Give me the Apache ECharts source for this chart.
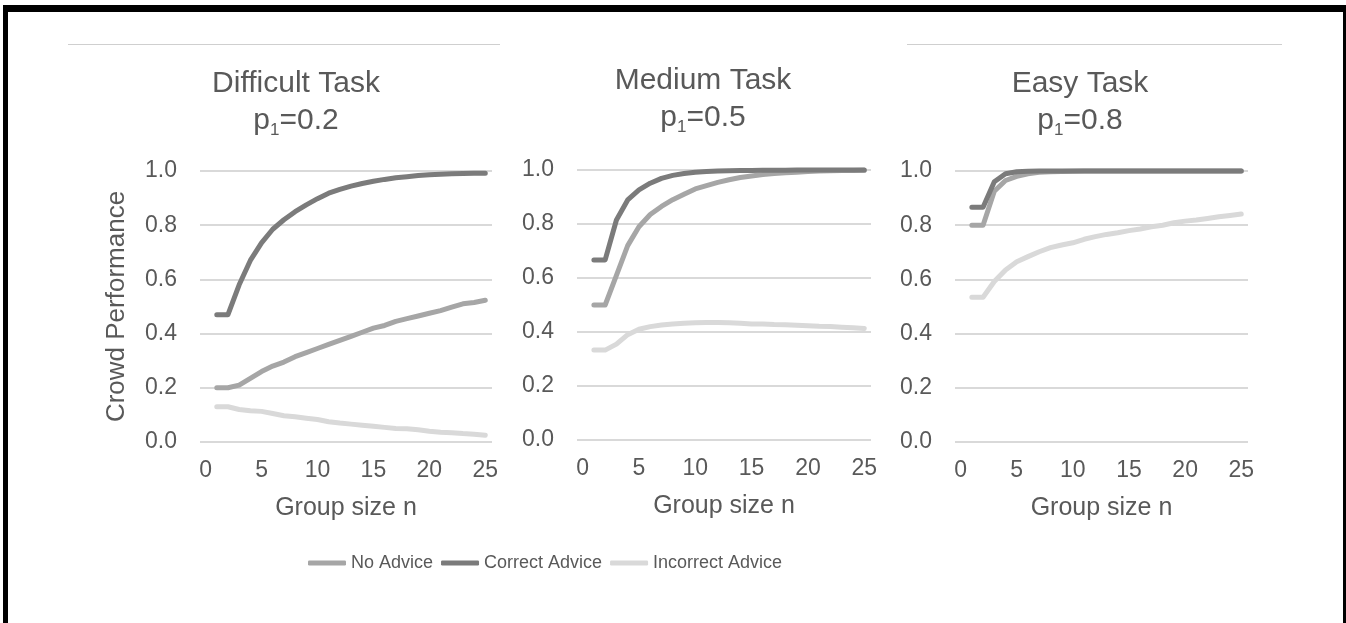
<!DOCTYPE html>
<html>
<head>
<meta charset="utf-8">
<script src="https://cdn.jsdelivr.net/npm/echarts@6/dist/echarts.min.js"></script>
<style>
  html, body { margin: 0; padding: 0; background: #ffffff; }
  #chart { width: 1346px; height: 623px; }
</style>
</head>
<body>
<div id="chart"></div>
<script>
// Group sizes n shown on the x axis
const groupSize = [1, 2, 3, 4, 5, 6, 7, 8, 9, 10, 11, 12, 13, 14, 15, 16, 17, 18, 19, 20, 21, 22, 23, 24, 25];
const xTickValues = [0, 5, 10, 15, 20, 25];

const seriesNames = ['No Advice', 'Correct Advice', 'Incorrect Advice'];
const panelTitles = ['Difficult Task', 'Medium Task', 'Easy Task'];
const panelP1 = ['0.2', '0.5', '0.8'];

// Difficult task, p1 = 0.2
const difficultNoAdvice = [0.20, 0.20, 0.21, 0.235, 0.26, 0.28, 0.295, 0.315, 0.33, 0.345, 0.36, 0.375, 0.39, 0.405, 0.42, 0.43, 0.445, 0.455, 0.465, 0.475, 0.485, 0.498, 0.51, 0.515, 0.523];
const difficultCorrect = [0.47, 0.47, 0.58, 0.67, 0.735, 0.785, 0.82, 0.85, 0.875, 0.898, 0.918, 0.932, 0.944, 0.954, 0.962, 0.969, 0.975, 0.979, 0.983, 0.986, 0.988, 0.99, 0.991, 0.992, 0.992];
const difficultIncorrect = [0.13, 0.13, 0.12, 0.115, 0.113, 0.105, 0.097, 0.093, 0.088, 0.083, 0.075, 0.07, 0.066, 0.062, 0.058, 0.054, 0.05, 0.049, 0.045, 0.04, 0.036, 0.034, 0.031, 0.029, 0.025];

// Medium task, p1 = 0.5
const mediumNoAdvice = [0.5, 0.5, 0.61, 0.72, 0.79, 0.835, 0.865, 0.89, 0.91, 0.93, 0.942, 0.954, 0.964, 0.972, 0.978, 0.983, 0.987, 0.99, 0.992, 0.994, 0.996, 0.997, 0.998, 0.998, 0.999];
const mediumCorrect = [0.667, 0.667, 0.815, 0.889, 0.926, 0.951, 0.969, 0.98, 0.987, 0.992, 0.994, 0.996, 0.997, 0.998, 0.998, 0.999, 0.999, 0.999, 1, 1, 1, 1, 1, 1, 1];
const mediumIncorrect = [0.333, 0.333, 0.355, 0.39, 0.41, 0.42, 0.426, 0.43, 0.432, 0.434, 0.435, 0.435, 0.434, 0.432, 0.43, 0.43, 0.428, 0.427, 0.425, 0.423, 0.421, 0.42, 0.418, 0.416, 0.413];

// Easy task, p1 = 0.8
const easyNoAdvice = [0.8, 0.8, 0.925, 0.965, 0.98, 0.99, 0.995, 0.997, 0.998, 0.999, 1, 1, 1, 1, 1, 1, 1, 1, 1, 1, 1, 1, 1, 1, 1];
const easyCorrect = [0.866, 0.866, 0.96, 0.99, 0.997, 0.999, 1, 1, 1, 1, 1, 1, 1, 1, 1, 1, 1, 1, 1, 1, 1, 1, 1, 1, 1];
const easyIncorrect = [0.534, 0.534, 0.592, 0.635, 0.665, 0.684, 0.702, 0.717, 0.727, 0.735, 0.748, 0.758, 0.766, 0.772, 0.78, 0.786, 0.794, 0.8, 0.809, 0.815, 0.819, 0.825, 0.831, 0.836, 0.841];

const panelData = [
  [difficultNoAdvice, difficultCorrect, difficultIncorrect],
  [mediumNoAdvice, mediumCorrect, mediumIncorrect],
  [easyNoAdvice, easyCorrect, easyIncorrect]
];

const FONT = '"Liberation Sans", Arial, sans-serif';
const TEXT = '#595959';
const GRID_LINE = '#d9d9d9';
const lineColors = { 'No Advice': '#a6a6a6', 'Correct Advice': '#7b7b7b', 'Incorrect Advice': '#d9d9d9' };

// plot-area boxes for the three panels
const grids = [
  { left: 200, top: 171, width: 292, height: 271 },
  { left: 577, top: 170, width: 294, height: 270 },
  { left: 955, top: 171, width: 293, height: 271 }
];
const titleX = [296, 703, 1080];
const titleY = [84, 81, 84];
const subY = [121, 118, 121];

const chart = echarts.init(document.getElementById('chart'), null, { renderer: 'canvas' });

const xAxes = grids.map((g, i) => ({
  type: 'value',
  gridIndex: i,
  min: -0.5,
  max: 25.6,
  axisLine: { show: false },
  axisTick: { show: false },
  splitLine: { show: false },
  axisLabel: {
    customValues: xTickValues,
    fontSize: 23, fontFamily: FONT, color: TEXT, margin: 17
  },
  name: 'Group size n',
  nameLocation: 'middle',
  nameGap: 54,
  nameTextStyle: { fontSize: 25, fontFamily: FONT, color: TEXT }
}));

const yAxes = grids.map((g, i) => ({
  type: 'value',
  gridIndex: i,
  min: 0,
  max: 1,
  interval: 0.2,
  axisLine: { show: false },
  axisTick: { show: false },
  splitLine: { show: true, lineStyle: { color: GRID_LINE, width: 2 } },
  axisLabel: {
    formatter: v => v.toFixed(1),
    fontSize: 23, fontFamily: FONT, color: TEXT, margin: 23
  },
  name: i === 0 ? 'Crowd Performance' : '',
  nameLocation: 'middle',
  nameGap: 70,
  nameTextStyle: { fontSize: 26, fontFamily: FONT, color: TEXT }
}));

// draw order: incorrect first, correct advice on top
const drawOrder = [2, 0, 1];
const series = [];
panelData.forEach((lists, p) => {
  drawOrder.forEach(k => {
    const name = seriesNames[k];
    series.push({
      name: name,
      type: 'line',
      xAxisIndex: p,
      yAxisIndex: p,
      data: groupSize.map((n, j) => [n, lists[k][j]]),
      showSymbol: false,
      symbol: 'none',
      smooth: false,
      clip: false,
      color: lineColors[name],
      lineStyle: { width: 5, color: lineColors[name], cap: 'round', join: 'round' },
      z: 2 + k,
      silent: true
    });
  });
});

const graphics = [
  // frame
  { type: 'rect', shape: { x: 3, y: 5, width: 1343, height: 7 }, style: { fill: '#000' } },
  { type: 'rect', shape: { x: 3, y: 5, width: 5, height: 618 }, style: { fill: '#000' } },
  { type: 'rect', shape: { x: 1343, y: 5, width: 3, height: 618 }, style: { fill: '#000' } },
  // thin rules above the panels
  { type: 'line', shape: { x1: 68, y1: 44.5, x2: 500, y2: 44.5 }, style: { stroke: '#cfcfcf', lineWidth: 1.2 } },
  { type: 'line', shape: { x1: 907, y1: 44.5, x2: 1282, y2: 44.5 }, style: { stroke: '#cfcfcf', lineWidth: 1.2 } }
];
panelTitles.forEach((t, i) => {
  graphics.push({
    type: 'text', x: titleX[i], y: titleY[i],
    style: { text: t, fontSize: 30, fontFamily: FONT, fill: TEXT, align: 'center', verticalAlign: 'middle' }
  });
  graphics.push({
    type: 'text', x: titleX[i], y: subY[i],
    style: {
      text: '{m|p}{s|1}{m|=' + panelP1[i] + '}',
      align: 'center', verticalAlign: 'middle',
      rich: {
        m: { fontSize: 30, lineHeight: 36, fontFamily: FONT, fill: TEXT, color: TEXT },
        s: { fontSize: 17, lineHeight: 17, fontFamily: FONT, fill: TEXT, color: TEXT, verticalAlign: 'bottom' }
      }
    }
  });
});

chart.setOption({
  animation: false,
  backgroundColor: '#ffffff',
  grid: grids.map(g => Object.assign({ containLabel: false }, g)),
  xAxis: xAxes,
  yAxis: yAxes,
  legend: {
    data: seriesNames,
    left: 303,
    top: 549,
    itemWidth: 38,
    itemHeight: 5,
    itemGap: 8,
    icon: 'roundRect',
    textStyle: { fontSize: 18, fontFamily: FONT, color: TEXT },
    selectedMode: false
  },
  graphic: graphics,
  series: series
});
</script>
</body>
</html>
